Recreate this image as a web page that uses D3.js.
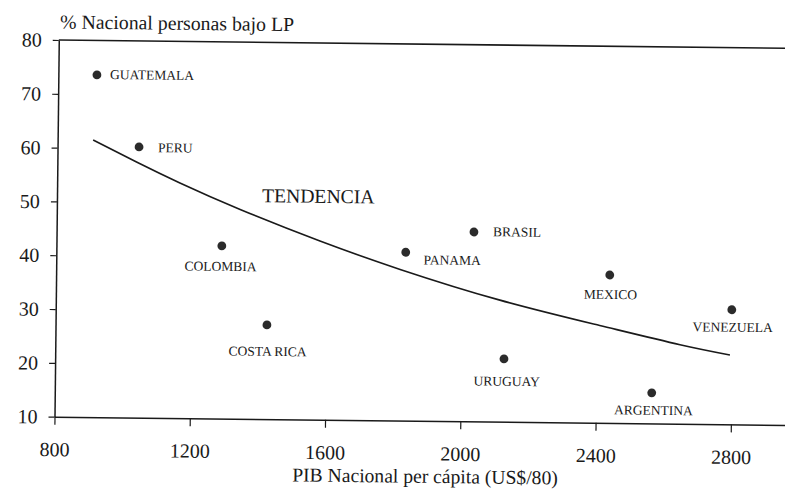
<!DOCTYPE html>
<html>
<head>
<meta charset="utf-8">
<script src="https://cdn.jsdelivr.net/npm/d3@7"></script>
<style>
  body { margin: 0; background: #fff; }
</style>
</head>
<body>
<div id="chart"></div>
<script>
// datos
const countries = ["GUATEMALA", "PERU", "COLOMBIA", "COSTA RICA", "PANAMA", "BRASIL", "MEXICO", "VENEZUELA", "URUGUAY", "ARGENTINA"];
const pib = [914, 1041, 1289, 1425, 1833, 2034, 2437, 2799, 2127, 2565];
const pobreza = [73.6, 60.3, 42.1, 27.5, 41.3, 45.2, 37.5, 31.3, 21.7, 15.7];

const trendX = [905, 1034, 1163, 1342, 1579, 1817, 2113, 2409, 2647, 2795];
const trendY = [61.5, 57.5, 53.7, 48.9, 43.2, 38.1, 32.6, 28.1, 24.7, 22.9];

const xTicks = [800, 1200, 1600, 2000, 2400, 2800];
const yTicks = [10, 20, 30, 40, 50, 60, 70, 80];

// ubicacion de las etiquetas (offset en px respecto al punto)
const labelPos = {
  "GUATEMALA": [13, 4, "start"],
  "PERU": [19, 5, "start"],
  "COLOMBIA": [-1, 25, "middle"],
  "COSTA RICA": [1, 31, "middle"],
  "PANAMA": [18, 12, "start"],
  "BRASIL": [19, 4, "start"],
  "MEXICO": [1, 24, "middle"],
  "VENEZUELA": [1, 22, "middle"],
  "URUGUAY": [3, 27, "middle"],
  "ARGENTINA": [2, 22, "middle"]
};

const width = 785, height = 490;
const ink = "#1a1a1a";
const serif = "'Liberation Serif', 'DejaVu Serif', serif";

const svg = d3.select("#chart").append("svg")
  .attr("width", width)
  .attr("height", height)
  .attr("font-family", serif);

// el original es un escaneo algo girado
const g = svg.append("g")
  .attr("transform", "translate(54.5,416.7) rotate(0.65)");

const x = d3.scaleLinear().domain([800, 2960]).range([0, 730.5]);
const y = d3.scaleLinear().domain([10, 80]).range([0, -376.7]);

// eje x
const xAxis = g.append("g")
  .call(d3.axisBottom(x).tickValues(xTicks).tickSize(8).tickSizeOuter(0).tickFormat(d3.format("d")))
  .attr("font-family", serif);
xAxis.select(".domain").attr("stroke", ink).attr("stroke-width", 1.5);
xAxis.selectAll(".tick line").attr("stroke", ink).attr("stroke-width", 1.2);
xAxis.selectAll(".tick text")
  .attr("y", 39.5).attr("dy", null)
  .attr("font-family", serif).attr("font-size", 20).attr("fill", ink);

// eje y
const yAxis = g.append("g")
  .call(d3.axisLeft(y).tickValues(yTicks).tickSize(6).tickSizeOuter(0))
  .attr("font-family", serif);
yAxis.select(".domain").attr("stroke", ink).attr("stroke-width", 1.5);
yAxis.selectAll(".tick line").attr("stroke", ink).attr("stroke-width", 1.2);
yAxis.selectAll(".tick text")
  .attr("x", -17)
  .attr("font-family", serif).attr("font-size", 20).attr("fill", ink);

// linea superior del marco
g.append("line")
  .attr("x1", x(800)).attr("x2", x(2960))
  .attr("y1", y(80)).attr("y2", y(80))
  .attr("stroke", ink).attr("stroke-width", 1.6);

// titulos
g.append("text")
  .attr("x", 1.1).attr("y", -388.3)
  .attr("font-family", serif)
  .attr("font-size", 19.8).attr("fill", ink)
  .text("% Nacional personas bajo LP");

g.append("text")
  .attr("x", 371.2).attr("y", 62)
  .attr("text-anchor", "middle")
  .attr("font-family", serif)
  .attr("font-size", 19.6).attr("fill", ink)
  .text("PIB Nacional per cápita (US$/80)");

// tendencia
const trend = trendX.map((d, i) => [d, trendY[i]]);
g.append("path")
  .datum(trend)
  .attr("fill", "none")
  .attr("stroke", ink)
  .attr("stroke-width", 1.6)
  .attr("d", d3.line().x(d => x(d[0])).y(d => y(d[1])).curve(d3.curveNatural));

g.append("text")
  .attr("x", x(1406)).attr("y", y(50.3))
  .attr("font-family", serif)
  .attr("font-size", 19.7).attr("fill", ink)
  .text("TENDENCIA");

// puntos
const pts = countries.map((c, i) => ({ name: c, x: pib[i], y: pobreza[i] }));

const node = g.append("g")
  .selectAll("g")
  .data(pts)
  .join("g")
  .attr("transform", d => `translate(${x(d.x)},${y(d.y)})`);

node.append("circle")
  .attr("r", 4.4)
  .attr("fill", "#2b2b2b");

node.append("text")
  .attr("x", d => labelPos[d.name][0])
  .attr("y", d => labelPos[d.name][1])
  .attr("text-anchor", d => labelPos[d.name][2])
  .attr("font-family", serif)
  .attr("font-size", 13.5)
  .attr("fill", ink)
  .text(d => d.name);
</script>
</body>
</html>
